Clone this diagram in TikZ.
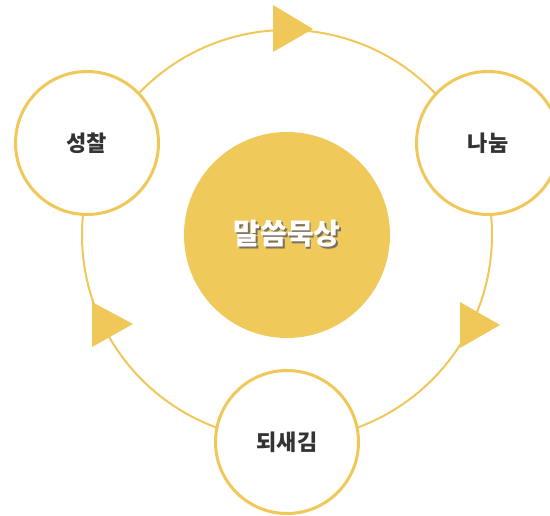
\documentclass[tikz,border=0pt]{standalone}
\usepackage{fontspec}
\newfontfamily\kr{Noto Sans CJK KR}
\usetikzlibrary{calc}
\definecolor{ringyellow}{HTML}{F0C85A}
\definecolor{hubyellow}{HTML}{F0C95B}
\definecolor{labelgray}{HTML}{333333}
\definecolor{shadowgray}{HTML}{7A7060}
% text with a small drop shadow behind it
\newcommand{\shadowedtext}[1]{%
  \makebox[0pt][l]{\hspace{1.8pt}\raisebox{-1.8pt}{\textcolor{shadowgray}{#1}}}#1}
\begin{document}
\begin{tikzpicture}[x=1pt,y=-1pt,
  stage/.style={circle,draw=ringyellow,line width=3pt,fill=white,
    minimum size=143pt,inner sep=0pt,font=\kr\bfseries\fontsize{22}{22}\selectfont,
    text=labelgray},
  hub/.style={circle,fill=hubyellow,minimum size=206pt,inner sep=0pt,
    font=\kr\bfseries\fontsize{29}{29}\selectfont,text=white},
  ringline/.style={draw=ringyellow,line width=2pt},
  flowtip/.style={fill=ringyellow}]
\useasboundingbox (0,0) rectangle (550,516);
% central hub with its title
\node[hub] (hub) at (287,235) {\shadowedtext{말씀묵상}};
% the cycle ring around the hub, behind the stages
\draw[ringline] (hub.center) circle[radius=205];
% stages on the ring
\node[stage] (reflect) at (87,143) {성찰};
\node[stage] (share) at (488,143) {나눔};
\node[stage] (recall) at (287,442) {되새김};
% direction markers along the ring
\fill[flowtip] (273,5) -- (313,29) -- (273,52) -- cycle;
\fill[flowtip] (460,302) -- (500,325) -- (460,348) -- cycle;
\fill[flowtip] (92,302) -- (133,324) -- (92,347) -- cycle;
\end{tikzpicture}
\end{document}
